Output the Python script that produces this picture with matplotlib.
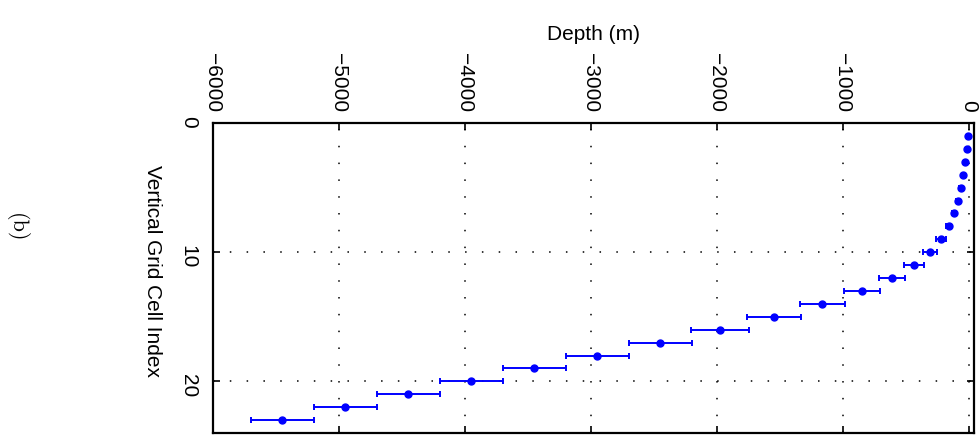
import matplotlib.pyplot as plt

# Vertical grid: cell centre depth and half cell thickness
cell_index = list(range(1, 24))
depth = [-5, -18, -32, -48, -66, -90, -122, -161, -225, -312, -436, -611,
         -849, -1164, -1545, -1976, -2450, -2950, -3450, -3950, -4450, -4950, -5450]
half_thick = [5, 7, 8, 9, 10, 12, 16, 22, 40, 55, 78, 105,
              141, 178, 213, 227, 250, 251, 248, 251, 252, 251, 250]

x_ticks = [-6000, -5000, -4000, -3000, -2000, -1000, 0]
y_ticks = [0, 10, 20]

plt.rcParams["font.family"] = ["Liberation Sans", "DejaVu Sans"]

fig = plt.figure(figsize=(9.8, 4.44), dpi=100)
ax = fig.add_axes([213 / 980, 1 - 433 / 444, (974 - 213) / 980, (433 - 123) / 444])

ax.errorbar(depth, cell_index, xerr=half_thick, fmt="o", color="blue",
            markersize=5, elinewidth=1.4, capsize=2, capthick=1.4)

ax.set_xlim(-6000, 40)
ax.set_ylim(24, 0)
ax.set_xticks(x_ticks)
ax.set_yticks(y_ticks)

ax.xaxis.tick_top()
ax.xaxis.set_label_position("top")
ax.tick_params(axis="both", which="major", direction="in", length=5, width=1.2,
               top=True, bottom=True, left=True, right=True, labelsize=15)
ax.tick_params(axis="x", labelrotation=-90, pad=8)
ax.tick_params(axis="y", labelrotation=-90, pad=11)
ax.set_xlabel("Depth (m)", fontsize=15, labelpad=9)

ax.grid(True, color="black", linewidth=1.1, linestyle=(0, (1, 10)))
for s in ax.spines.values():
    s.set_linewidth(1.6)

fig.text(152 / 980, 1 - 271 / 444, "Vertical Grid Cell Index", rotation=-90,
         ha="center", va="center", fontsize=15)
fig.text(16 / 980, 1 - 228 / 444, "(b)", rotation=-90, ha="center", va="center",
         fontsize=16, fontname="cmr10")

fig.savefig("out.png", dpi=100)
